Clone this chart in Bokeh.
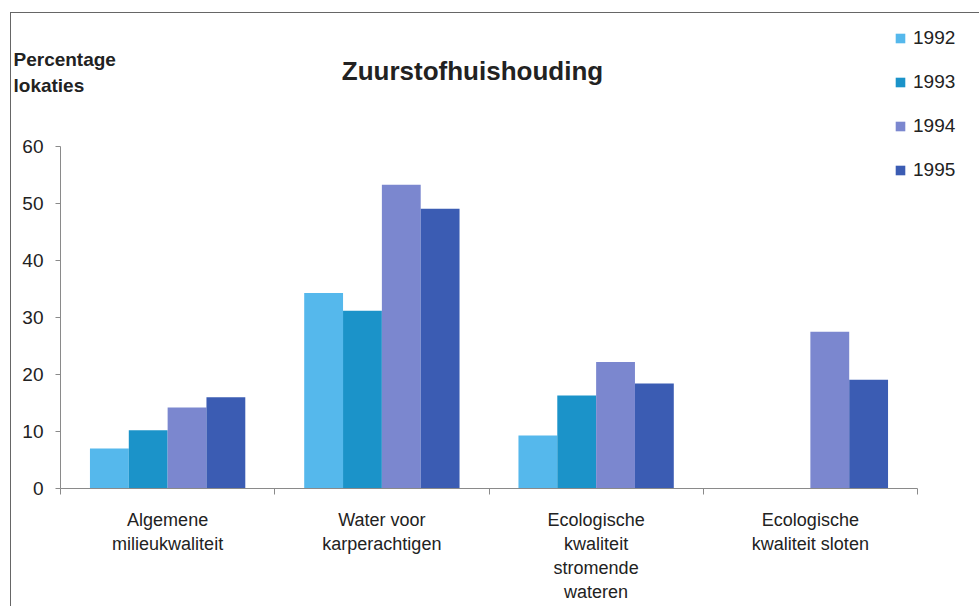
from bokeh.plotting import figure
from bokeh.models import (Range1d, FixedTicker, Label, Legend, LegendItem, ColumnDataSource)
from bokeh.embed import file_html
from bokeh.resources import INLINE

categories = ["Algemene\nmilieukwaliteit", "Water voor\nkarperachtigen",
              "Ecologische\nkwaliteit\nstromende\nwateren", "Ecologische\nkwaliteit sloten"]
years = ["1992", "1993", "1994", "1995"]
v1992 = [7.0, 34.3, 9.3, None]
v1993 = [10.2, 31.2, 16.3, None]
v1994 = [14.2, 53.3, 22.2, 27.5]
v1995 = [16.0, 49.1, 18.4, 19.1]
series = [v1992, v1993, v1994, v1995]
colors = ["#55b8ec", "#1b93c9", "#7b87cf", "#3b5cb3"]
yticks = [0, 10, 20, 30, 40, 50, 60]
ymax = 60

FONT = "Liberation Sans"
TXT = "#222222"
AX = "#8a8a8a"

# canvas geometry (pixels)
W, H = 969, 594
ax_left, ax_right = 49, 906      # x pixel of category axis start / end
ax_bottom, ax_top = 475, 133     # y pixel of value 0 / ymax
ncat = len(categories)
pxu = (ax_right - ax_left) / ncat
pyu = (ax_bottom - ax_top) / ymax
x_start = -ax_left / pxu
x_end = ncat + (W - ax_right) / pxu
y_start = -(H - ax_bottom) / pyu
y_end = ymax + ax_top / pyu

p = figure(width=W, height=H, output_backend="svg", toolbar_location=None,
           x_range=Range1d(x_start, x_end), y_range=Range1d(y_start, y_end),
           min_border_left=0, min_border_right=0, min_border_top=0, min_border_bottom=0)
p.margin = (12, 0, 0, 10)
p.styles = {"border-top": "1px solid #666", "border-left": "1px solid #666"}
p.outline_line_color = None
p.xgrid.grid_line_color = None
p.ygrid.grid_line_color = None
p.background_fill_color = "white"
p.border_fill_color = "white"

group = 0.725
w = group / len(years)
renderers = []
for j, (yr, vals, col) in enumerate(zip(years, series, colors)):
    xs, tops = [], []
    for i, v in enumerate(vals):
        if v is None:
            continue
        xs.append(i + 0.5 + (j - (len(years) - 1) / 2) * w)
        tops.append(v)
    src = ColumnDataSource(dict(x=xs, top=tops))
    r = p.vbar(x="x", top="top", width=w, bottom=0, source=src,
               fill_color=col, line_color=None)
    renderers.append((yr, r))

# axes
xa = p.xaxis[0]
xa.fixed_location = 0
xa.bounds = (0, ncat)
xa.ticker = FixedTicker(ticks=[i + 0.5 for i in range(ncat)],
                        minor_ticks=list(range(ncat + 1)))
xa.major_label_overrides = {i + 0.5: c for i, c in enumerate(categories)}
xa.major_tick_line_color = None
xa.minor_tick_line_color = AX
xa.minor_tick_out = 6
xa.minor_tick_in = 0
xa.axis_line_color = AX
xa.major_label_text_font = FONT
xa.major_label_text_font_size = "18px"
xa.major_label_text_color = TXT
xa.major_label_standoff = 15
xa.major_label_text_line_height = 1.2

ya = p.yaxis[0]
ya.fixed_location = 0
ya.bounds = (0, ymax)
ya.ticker = FixedTicker(ticks=yticks)
ya.minor_tick_line_color = None
ya.major_tick_line_color = AX
ya.major_tick_out = 5
ya.major_tick_in = 0
ya.axis_line_color = AX
ya.major_label_text_font = FONT
ya.major_label_text_font_size = "19px"
ya.major_label_text_color = TXT
ya.major_label_standoff = 12

# texts (positions in screen pixels relative to the canvas)
def sx(px):
    return x_start + px / pxu

def sy(py):
    return y_end - py / pyu

p.add_layout(Label(x=sx(461), y=sy(57), text="Zuurstofhuishouding", text_align="center",
                   text_baseline="alphabetic", text_font=FONT, text_font_size="26px",
                   text_font_style="bold", text_color=TXT))
p.add_layout(Label(x=sx(2), y=sy(46), text="Percentage", text_align="left",
                   text_baseline="alphabetic", text_font=FONT, text_font_size="19px",
                   text_font_style="bold", text_color=TXT))
p.add_layout(Label(x=sx(2), y=sy(72), text="lokaties", text_align="left",
                   text_baseline="alphabetic", text_font=FONT, text_font_size="19px",
                   text_font_style="bold", text_color=TXT))

legend = Legend(items=[LegendItem(label=yr, renderers=[r]) for yr, r in renderers],
                location=(883, 426), orientation="vertical",
                padding=0, margin=0, spacing=22, glyph_width=12, glyph_height=12,
                label_height=20, label_standoff=7,
                label_text_font=FONT, label_text_font_size="19px", label_text_color=TXT,
                border_line_color=None, background_fill_alpha=0)
p.add_layout(legend, "center")

open("out.html", "w").write(file_html(p, INLINE))
